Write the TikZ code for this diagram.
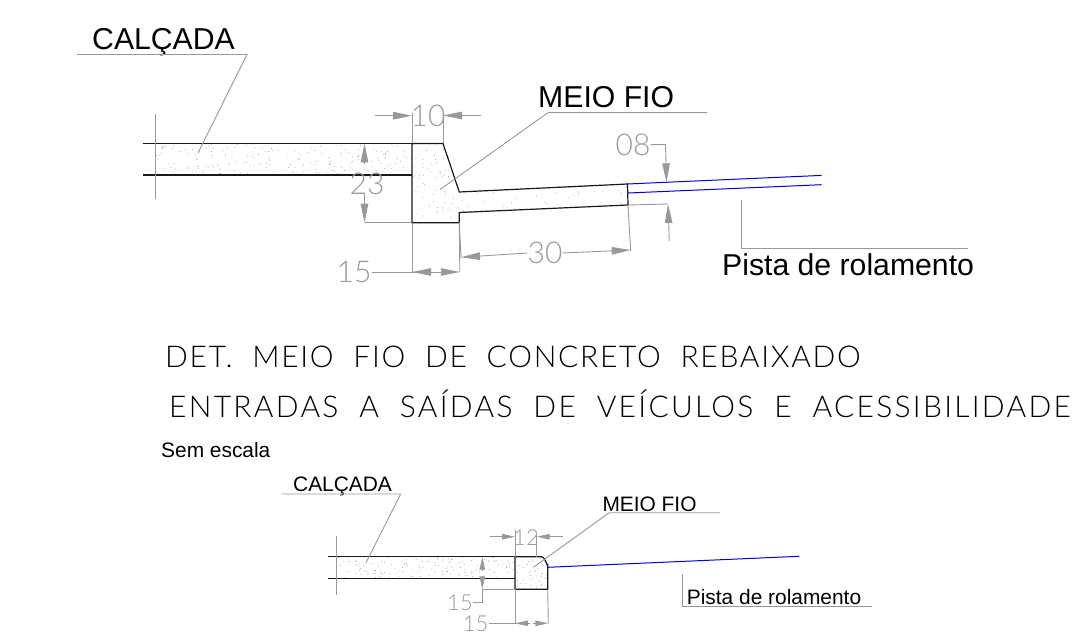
\documentclass[tikz,border=0pt]{standalone}
\usepackage{fontspec}
\setmainfont{Liberation Sans}
\newfontfamily\dimfont{Lato Light}
\newfontfamily\titlefont[LetterSpace=5.7,WordSpace=2.0]{Lato Light}
\newfontfamily\titlefontb[LetterSpace=7.6,WordSpace=2.0]{Lato Light}
\usetikzlibrary{arrows.meta}
\usetikzlibrary{positioning}

% Pontilhado do concreto
\newcommand{\stipple}[5]{%
  \foreach \i in {1,...,#1} {
    \fill[dotcolor] ({#2+rnd*(#3-#2)},{#4+rnd*(#5-#4)}) circle (0.5pt);
  }%
}

\begin{document}
\begin{tikzpicture}[x=1pt, y=-1pt,
    solidline/.style={black!90, line width=1.2pt},
    dimline/.style={dimcolor, line width=0.9pt},
    dimarrow/.style={-{Triangle[length=19pt,width=7.5pt]}},
    smallarrow/.style={-{Triangle[length=13pt,width=5.5pt]}},
    roadline/.style={roadcolor, line width=1pt},
    bigtext/.style={anchor=base west, inner sep=0pt, font=\fontsize{30.2}{36}\selectfont},
    smalltext/.style={anchor=base west, inner sep=0pt, font=\fontsize{20.9}{25}\selectfont},
    titletext/.style={anchor=base west, inner sep=0pt, font=\titlefont\fontsize{30}{36}\selectfont, black},
    titletextb/.style={anchor=base west, inner sep=0pt, font=\titlefontb\fontsize{30}{36}\selectfont, black},
    dimbig/.style={inner sep=0pt, dimcolor, font=\dimfont\fontsize{30}{36}\selectfont},
    dimsmall/.style={inner sep=0pt, dimcolor, font=\dimfont\fontsize{22}{26}\selectfont}]

    % Farben
    \definecolor{dimcolor}{gray}{0.6}
    \definecolor{dotcolor}{gray}{0.62}
    \definecolor{roadcolor}{rgb}{0.0, 0.0, 0.85}
    \pgfmathsetseed{4711}

    \useasboundingbox (0,0) rectangle (1079,636);

    % Detalhe superior: pontos
    \coordinate (A) at (412, 143.5);
    \coordinate (B) at (443, 143.5);
    \coordinate (C) at (459.3, 192);
    \coordinate (D) at (627.5, 184);
    \coordinate (E) at (628, 205);
    \coordinate (F) at (459.3, 212.5);
    \coordinate (G) at (459.3, 222.7);
    \coordinate (H) at (412, 222.7);
    \coordinate (J) at (412, 175);
    \coordinate (K) at (143, 143.5);
    \coordinate (L) at (143, 175);

    % Pontilhado
    \begin{scope}
        \clip (155,143.5) rectangle (J);
        \stipple{190}{155}{412}{144}{175}
    \end{scope}
    \begin{scope}
        \clip (A) -- (B) -- (C) -- (D) -- (E) -- (F) -- (G) -- (H) -- cycle;
        \stipple{230}{412}{628}{144}{223}
    \end{scope}

    % Calcada e meio fio
    \draw[solidline] (K) -- (A);
    \draw[solidline] (L) -- (J);
    \draw[solidline] (A) -- (B) -- (C) -- (D) -- (E) -- (F) -- (G) -- (H) -- cycle;
    \draw[dimline] (155, 114) -- (155, 199);

    % Pista
    \draw[roadline] (D) -- (821.7, 175.4);
    \draw[roadline] (628, 193) -- (821.7, 184.7);

    % Chamadas
    \node[bigtext] (calcadaA) at (92, 49.3) {CALÇADA};
    \node[bigtext] (meiofioA) at (538, 108) {MEIO FIO};
    \node[bigtext] (pistaA) at (722, 276) {Pista de rolamento};
    \draw[dimline] (77, 54.5) -- (247, 54.5) -- (198, 153);
    \draw[dimline] (707, 112.7) -- (548, 112.7) -- (440, 189.5);
    \draw[dimline] (741, 200) -- (741, 248.3) -- (968, 248.3);

    % Cota 10
    \node[dimbig] (dimten) at (428, 116) {10};
    \draw[dimline] (412, 113) -- (A);
    \draw[dimline] (443, 113) -- (B);
    \draw[dimline, dimarrow] (375, 115.7) -- (412, 115.7);
    \draw[dimline, dimarrow] (481, 115.5) -- (443, 115.5);

    % Cota 23
    \node[dimbig] (dimtwentythree) at (367, 184) {23};
    \draw[dimline, dimarrow] (364.5, 164) -- (364.5, 143.5);
    \draw[dimline, dimarrow] (364.5, 194) -- (364.5, 222.7);
    \draw[dimline] (364.5, 222.7) -- (H);

    % Cota 15
    \node[dimbig] (dimfifteen) at (354, 272) {15};
    \draw[dimline] (H) -- (412, 272);
    \draw[dimline] (G) -- (459.8, 272);
    \draw[dimline, dimarrow] (432, 272) -- (412, 272);
    \draw[dimline, dimarrow] (438, 272) -- (459.8, 272);
    \draw[dimline] (dimfifteen.east) -- (438, 272);

    % Cota 30
    \node[dimbig] (dimthirty) at (545, 253) {30};
    \draw[dimline] (G) -- (461, 258);
    \draw[dimline] (E) -- (630.7, 251);
    \draw[dimline, dimarrow] (dimthirty.west) -- (461, 257.3);
    \draw[dimline, dimarrow] (dimthirty.east) -- (630.7, 250);

    % Cota 08
    \node[dimbig] (dimeight) at (633, 144.7) {08};
    \draw[dimline, dimarrow] (dimeight.east) -- (665.5, 144.7) -- (666.5, 182.3);
    \draw[dimline] (E) -- (668, 204);
    \draw[dimline, dimarrow] (669.3, 241) -- (668, 204);

    % Titulo
    \node[titletext] (titleone) at (165, 367) {DET. MEIO FIO DE CONCRETO REBAIXADO};
    \node[titletextb] (titletwo) at (169, 417) {ENTRADAS A SAÍDAS DE VEÍCULOS E ACESSIBILIDADE};
    \node[smalltext] (semescala) at (161, 457.7) {Sem escala};

    % Detalhe inferior: pontos
    \coordinate (M) at (515, 556.7);
    \coordinate (N) at (541.7, 556.7);
    \coordinate (O) at (547.7, 565);
    \coordinate (P) at (547.7, 589.3);
    \coordinate (Q) at (515, 589.3);
    \coordinate (R) at (515, 578.3);
    \coordinate (S) at (328.3, 556.7);
    \coordinate (T) at (328.3, 578.3);

    % Pontilhado
    \begin{scope}
        \clip (336.7,556.7) rectangle (R);
        \stipple{150}{336.7}{515}{557}{578}
    \end{scope}
    \begin{scope}
        \clip (M) -- (N) -- (O) -- (P) -- (Q) -- cycle;
        \stipple{40}{515}{548}{557}{589}
    \end{scope}

    % Calcada e meio fio
    \draw[solidline] (S) -- (M);
    \draw[solidline] (T) -- (R);
    \draw[solidline] (M) -- (N) to[out=0, in=-90] (O) -- (P) -- (Q) -- cycle;
    \draw[dimline] (336.7, 536) -- (336.7, 595);
    \draw[roadline] (547.7, 567.3) -- (799, 556.3);

    % Chamadas
    \node[smalltext] (calcadaB) at (293, 491.7) {CALÇADA};
    \node[smalltext] (meiofioB) at (602.3, 511) {MEIO FIO};
    \node[smalltext] (pistaB) at (686.7, 604) {Pista de rolamento};
    \draw[dimline] (281.7, 494) -- (400.7, 494) -- (366, 562.7);
    \draw[dimline] (720, 512.7) -- (609.3, 512.7) -- (533.3, 567.3);
    \draw[dimline] (682.7, 574.3) -- (682.7, 606.7) -- (871.7, 606.7);

    % Cota 12
    \node[dimsmall] (dimtwelve) at (526, 537.7) {12};
    \draw[dimline] (515, 530) -- (M);
    \draw[dimline] (536.7, 535) -- (536.7, 556.7);
    \draw[dimline, smallarrow] (490, 536.7) -- (515, 536.7);
    \draw[dimline, smallarrow] (562.7, 536.7) -- (536.7, 536.7);

    % Cota 15 vertical
    \node[dimsmall] (dimfifteenB) at (460, 602.3) {15};
    \draw[dimline, smallarrow] (482.3, 571) -- (482.3, 556.7);
    \draw[dimline, smallarrow] (482.3, 576) -- (482.3, 589.3);
    \draw[dimline] (dimfifteenB.east) -- (482.3, 602.3) -- (482.3, 589.3) -- (Q);

    % Cota 15 horizontal
    \node[dimsmall] (dimfifteenC) at (475.7, 623.3) {15};
    \draw[dimline] (Q) -- (515, 623.3);
    \draw[dimline] (P) -- (548.3, 623.3);
    \draw[dimline] (dimfifteenC.east) -- (530, 623.3);
    \draw[dimline, smallarrow] (530, 623.3) -- (515, 623.3);
    \draw[dimline, smallarrow] (533, 623.3) -- (548.3, 623.3);

\end{tikzpicture}
\end{document}
